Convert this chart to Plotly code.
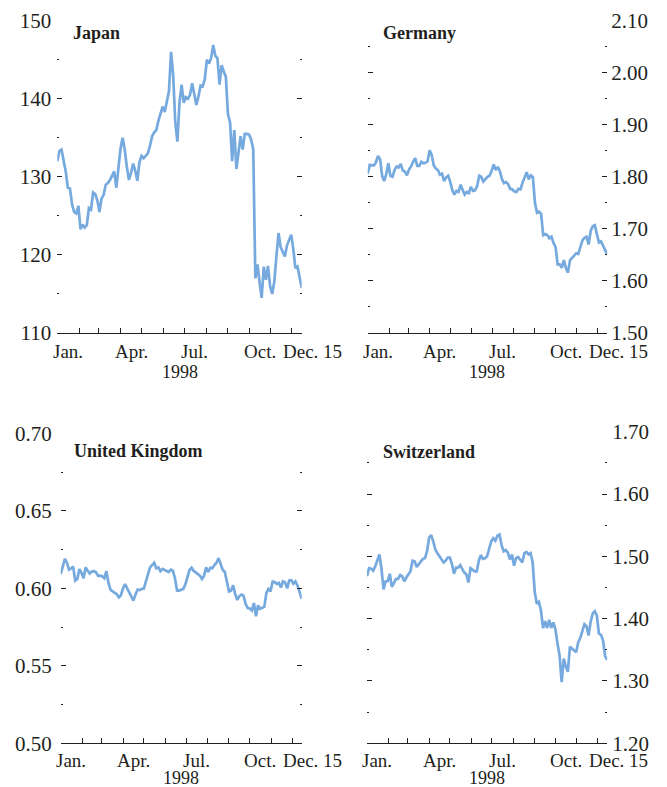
import pandas as pd
import plotly.graph_objects as go

W, H = 667, 787

# ---- data (every 3 days, Jan 1 – Dec 15, 1998) ----
dates = pd.date_range("1998-01-01", "1998-12-15", freq="3D")

japan = [
    132.0, 133.3, 133.5, 132.0, 130.7, 128.6, 128.5, 126.5, 125.5, 125.3,
    126.3, 123.3, 123.9, 123.5, 123.8, 126.0, 125.8, 128.0, 127.8, 127.0,
    125.5, 127.2, 127.7, 129.0, 129.2, 129.6, 130.2, 130.7, 128.6, 131.5,
    133.6, 135.0, 133.5, 131.3, 129.6, 130.5, 131.7, 130.8, 129.5, 131.9,
    132.7, 132.4, 132.7, 133.0, 134.0, 135.2, 135.7, 136.0, 137.2, 138.1,
    139.0, 138.3, 139.8, 141.0, 146.0, 143.0, 137.0, 134.5, 139.5, 141.8,
    139.5, 140.2, 140.0, 140.5, 142.0, 140.5, 139.2, 140.3, 141.7, 141.6,
    142.5, 145.0, 144.5, 145.2, 146.9, 145.5, 145.2, 141.8, 144.3, 143.5,
    142.8, 138.0, 137.0, 132.0, 136.0, 131.0, 133.5, 135.2, 133.5, 135.5,
    135.5, 135.4, 134.8, 133.5, 117.0, 118.8, 116.5, 114.5, 118.5, 116.8,
    118.6, 116.0, 115.0, 116.6, 119.8, 122.8, 121.0, 120.3, 119.8, 121.2,
    121.8, 122.6, 120.8, 118.3, 118.5, 117.3, 115.8,
]

germany = [
    1.806, 1.823, 1.822, 1.822, 1.828, 1.840, 1.834, 1.802, 1.792, 1.805,
    1.826, 1.802, 1.800, 1.813, 1.820, 1.818, 1.825, 1.812, 1.810, 1.803,
    1.814, 1.820, 1.829, 1.836, 1.821, 1.821, 1.829, 1.826, 1.827, 1.830,
    1.851, 1.842, 1.822, 1.816, 1.813, 1.804, 1.806, 1.792, 1.799, 1.802,
    1.790, 1.774, 1.766, 1.773, 1.771, 1.785, 1.775, 1.766, 1.771, 1.769,
    1.781, 1.773, 1.774, 1.782, 1.802, 1.800, 1.791, 1.796, 1.800, 1.802,
    1.811, 1.824, 1.813, 1.819, 1.811, 1.796, 1.788, 1.790, 1.786, 1.777,
    1.776, 1.772, 1.771, 1.777, 1.776, 1.789, 1.798, 1.809, 1.795, 1.803,
    1.800, 1.750, 1.731, 1.733, 1.729, 1.688, 1.690, 1.688, 1.682, 1.685,
    1.673, 1.665, 1.632, 1.632, 1.625, 1.640, 1.625, 1.616, 1.640, 1.645,
    1.650, 1.653, 1.652, 1.665, 1.678, 1.683, 1.685, 1.670, 1.696, 1.705,
    1.707, 1.690, 1.674, 1.676, 1.668, 1.658, 1.651,
]

uk = [
    0.6092, 0.6140, 0.6190, 0.6165, 0.6120, 0.6128, 0.6140, 0.6050, 0.6060, 0.6124,
    0.6100, 0.6065, 0.6135, 0.6113, 0.6095, 0.6108, 0.6110, 0.6103, 0.6080, 0.6082,
    0.6078, 0.6065, 0.6110, 0.6035, 0.5990, 0.5980, 0.5968, 0.5962, 0.5942, 0.5955,
    0.6000, 0.6028, 0.6000, 0.5975, 0.5945, 0.5921, 0.5960, 0.5992, 0.5988, 0.5996,
    0.5998, 0.6050, 0.6095, 0.6135, 0.6150, 0.6165, 0.6130, 0.6135, 0.6110, 0.6125,
    0.6118, 0.6113, 0.6105, 0.6120, 0.6113, 0.6065, 0.5985, 0.5985, 0.5990, 0.5996,
    0.6025, 0.6080, 0.6118, 0.6133, 0.6112, 0.6103, 0.6095, 0.6082, 0.6060, 0.6080,
    0.6135, 0.6105, 0.6133, 0.6130, 0.6150, 0.6165, 0.6195, 0.6160, 0.6118, 0.6105,
    0.6045, 0.5980, 0.5985, 0.6020, 0.5962, 0.5925, 0.5950, 0.5960, 0.5953, 0.5900,
    0.5872, 0.5870, 0.5857, 0.5905, 0.5820, 0.5890, 0.5868, 0.5875, 0.5880, 0.5970,
    0.5996, 0.5980, 0.6043, 0.6040, 0.6028, 0.6035, 0.6005, 0.6045, 0.6038, 0.6000,
    0.6050, 0.6052, 0.6030, 0.6045, 0.6017, 0.5975, 0.5932,
]

switzerland = [
    1.468, 1.481, 1.480, 1.477, 1.484, 1.495, 1.503, 1.480, 1.447, 1.460,
    1.460, 1.472, 1.451, 1.457, 1.464, 1.464, 1.470, 1.468, 1.460, 1.466,
    1.471, 1.476, 1.493, 1.492, 1.483, 1.487, 1.491, 1.496, 1.497, 1.508,
    1.530, 1.534, 1.524, 1.511, 1.505, 1.500, 1.497, 1.490, 1.493, 1.498,
    1.498, 1.488, 1.472, 1.482, 1.482, 1.486, 1.480, 1.474, 1.471, 1.458,
    1.481, 1.478, 1.476, 1.476, 1.493, 1.502, 1.496, 1.497, 1.500, 1.512,
    1.524, 1.529, 1.525, 1.533, 1.535, 1.518, 1.508, 1.510, 1.506, 1.495,
    1.503, 1.485, 1.497, 1.499, 1.495, 1.490, 1.505, 1.507, 1.503, 1.505,
    1.490, 1.443, 1.424, 1.427, 1.413, 1.385, 1.396, 1.385, 1.398, 1.385,
    1.394, 1.383, 1.360, 1.341, 1.298, 1.336, 1.323, 1.315, 1.355, 1.352,
    1.350, 1.346, 1.362, 1.369, 1.380, 1.391, 1.388, 1.373, 1.395, 1.408,
    1.412, 1.405, 1.376, 1.374, 1.365, 1.340, 1.334,
]

titles = ["Japan", "Germany", "United Kingdom", "Switzerland"]
series = [japan, germany, uk, switzerland]
y_ranges = [[110, 150], [1.50, 2.10], [0.50, 0.70], [1.20, 1.70]]
y_dticks = [10, 0.10, 0.05, 0.10]
y_formats = ["d", ".2f", ".2f", ".2f"]

month_ticks = list(pd.date_range("1998-01-01", "1998-12-01", freq="MS")) + [pd.Timestamp("1998-12-15")]
month_labels = ["Jan.", "Apr.", "Jul.", "Oct."]
month_label_dates = ["1998-01-16", "1998-04-16", "1998-07-16", "1998-10-16"]
end_label = "Dec. 15"
end_label_date = "1998-12-15"
year_label = "1998"
year_label_date = "1998-06-24"

# ---- layout geometry (pixels) ----
# (x_left, x_right, y_top, y_bottom)
boxes = [
    (57.3, 301.7, 20.7, 333.0),
    (367.7, 607.2, 20.7, 333.0),
    (60.7, 301.7, 433.3, 743.3),
    (367.0, 607.2, 431.7, 743.3),
]
sides = ["left", "right", "left", "right"]
standoffs = [5, 3, 8, 4]
title_pos = [(70.5, 33), (380.5, 33), (71.5, 451), (380.5, 452)]
label_y = [351, 351, 760, 760]
year_y = [372, 372, 778, 778]

FONT = "Liberation Serif, Times New Roman, serif"
TXT = "#231f20"
LINE = "#76aade"

fig = go.Figure()
layout = dict(
    template="none",
    width=W, height=H, autosize=False,
    margin=dict(l=0, r=0, t=0, b=0, pad=0, autoexpand=False),
    paper_bgcolor="white", plot_bgcolor="white",
    showlegend=False,
    font=dict(family=FONT, color=TXT, size=19),
)
annotations = []

for k in range(4):
    n = "" if k == 0 else str(k + 1)
    xl, xr, yt, yb = boxes[k]
    fig.add_trace(go.Scatter(
        x=dates, y=series[k], mode="lines",
        line=dict(color=LINE, width=2.7),
        xaxis="x" + n, yaxis="y" + n, hoverinfo="skip",
    ))
    layout["xaxis" + n] = dict(
        domain=[xl / W, xr / W], anchor="y" + n, type="date",
        range=["1998-01-01", "1998-12-15"],
        showline=True, linecolor=TXT, linewidth=1,
        ticks="inside", ticklen=5, tickwidth=1, tickcolor=TXT,
        tickvals=month_ticks, showticklabels=False, automargin=False,
        showgrid=False, zeroline=False, fixedrange=True,
    )
    minor_dt = y_dticks[k] / 2
    layout["yaxis" + n] = dict(
        domain=[1 - yb / H, 1 - yt / H], anchor="x" + n,
        range=y_ranges[k], side=sides[k],
        dtick=y_dticks[k], tick0=y_ranges[k][0], tickformat=y_formats[k],
        ticks="inside", ticklen=5, tickwidth=1, tickcolor=TXT,
        mirror="ticks", showline=False, automargin=False,
        minor=dict(ticks="inside", ticklen=2, tickwidth=1, tickcolor=TXT,
                   dtick=minor_dt, tick0=y_ranges[k][0], showgrid=False),
        tickfont=dict(family=FONT, size=21, color=TXT),
        ticklabelstandoff=standoffs[k],
        showgrid=False, zeroline=False, fixedrange=True,
    )
    # panel title
    tx, ty = title_pos[k]
    annotations.append(dict(
        text="<b>" + titles[k] + "</b>", xref="paper", yref="paper",
        x=tx / W, y=1 - ty / H, xanchor="left", yanchor="middle",
        showarrow=False, font=dict(family=FONT, size=18, color=TXT),
    ))
    # month labels
    for lab, d in zip(month_labels, month_label_dates):
        annotations.append(dict(
            text=lab, xref="x" + n, yref="paper", x=d, y=1 - label_y[k] / H,
            xanchor="center", yanchor="middle", showarrow=False, borderpad=0,
            font=dict(family=FONT, size=19, color=TXT),
        ))
    annotations.append(dict(
        text=end_label, xref="x" + n, yref="paper", x=end_label_date,
        y=1 - label_y[k] / H, xanchor="center", yanchor="middle", borderpad=0,
        xshift=11, showarrow=False, font=dict(family=FONT, size=19, color=TXT),
    ))
    annotations.append(dict(
        text=year_label, xref="x" + n, yref="paper", x=year_label_date,
        y=1 - year_y[k] / H, xanchor="center", yanchor="middle", borderpad=0,
        showarrow=False, font=dict(family=FONT, size=18, color=TXT),
    ))

layout["annotations"] = annotations
fig.update_layout(**layout)
fig.write_html("out.html")
